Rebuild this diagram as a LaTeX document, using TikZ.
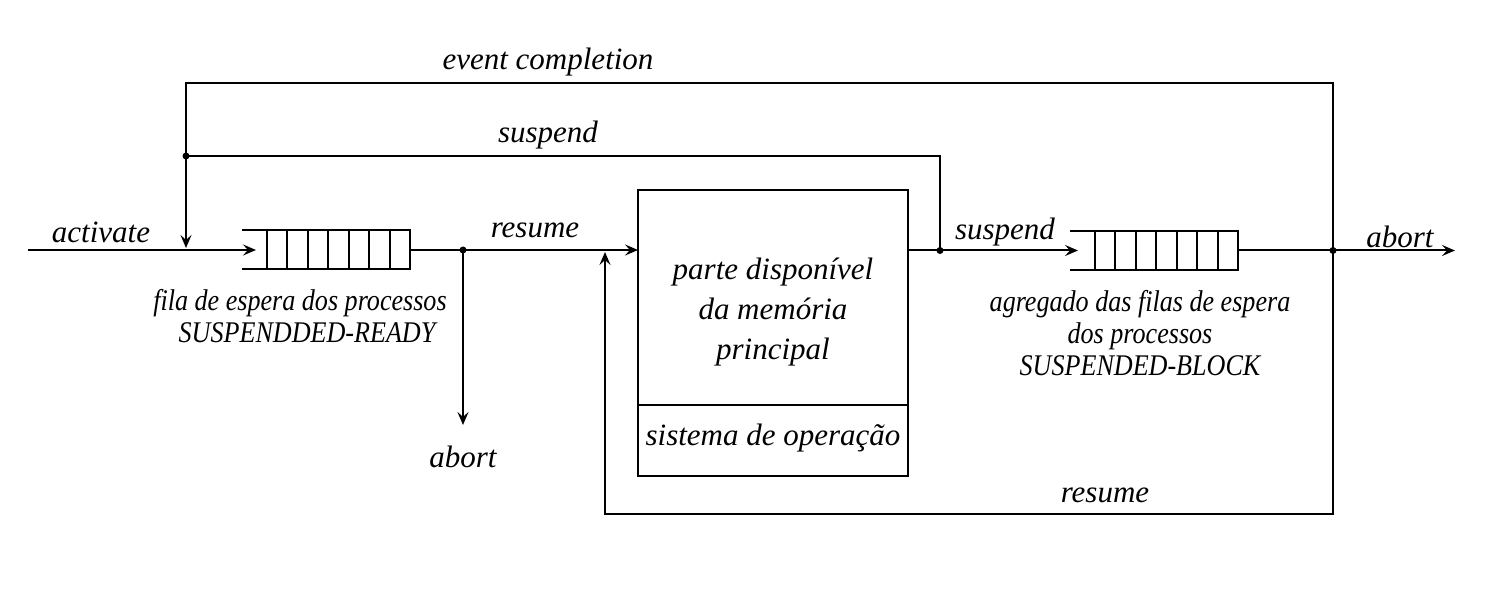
\documentclass[tikz,border=0pt]{standalone}
\usepackage{fontspec}
\setmainfont{Liberation Serif}
\newfontfamily\condfont[FakeStretch=0.87]{Liberation Serif}
\usetikzlibrary{arrows.meta,calc}
\begin{document}
\begin{tikzpicture}[x=1pt,y=-1pt,
  line width=2pt,
  arr/.style={-{Stealth[length=13pt,width=11pt,inset=5pt]}},
  lbl/.style={font=\fontsize{31}{32}\selectfont\itshape, inner sep=0pt},
  lblc/.style={lbl, align=center},
  small/.style={inner sep=0pt, align=center, font=\condfont\fontsize{30}{32}\selectfont\itshape},
  dotmark/.style={circle, fill=black, inner sep=0pt, minimum size=7pt},
  queuebox/.style={minimum width=166pt, minimum height=37pt, inner sep=0pt}]
\useasboundingbox (0,0) rectangle (1493,593);

% queues
\node[queuebox] (q1) at (326,250) {};
\node[queuebox] (q2) at (1154,250.5) {};
\foreach \q in {q1,q2}{
  \draw (\q.north west) -- (\q.north east) -- (\q.south east) -- (\q.south west);
  \foreach \i in {1,...,7}
    \draw ($(\q.north east)+(-\i*20.43,0)$) -- ($(\q.south east)+(-\i*20.43,0)$);
}

% memory box
\node[draw, minimum width=270pt, minimum height=286pt, inner sep=0pt] (mem) at (773,333) {};
\coordinate (divL) at (638,405);
\coordinate (divR) at (908,405);
\draw (divL) -- (divR);
\node[lblc, font=\fontsize{31}{40}\selectfont\itshape] (memtxt) at (773,312) {parte disponível\\da memória\\principal};
\node[lbl] (so) at (773,438) {sistema de operação};

% coordinates
\coordinate (start) at (28,250);
\coordinate (q1in) at (256,250);
\coordinate (j1) at (463,250);
\coordinate (abortL) at (463,425);
\coordinate (memin) at (638,250);
\coordinate (memout) at (908,250.5);
\coordinate (j4) at (940,250.5);
\coordinate (q2in) at (1078,250.5);
\coordinate (j3) at (1333,250.5);
\coordinate (abortR) at (1455,250.5);
\coordinate (topR) at (1333,83);
\coordinate (topL) at (186,83);
\coordinate (j2) at (186,156);
\coordinate (actin) at (186,248);
\coordinate (susR) at (940,156);
\coordinate (botR) at (1333,514);
\coordinate (botL) at (605,514);
\coordinate (resin) at (605,252);

% connectors
\draw[arr] (start) -- (q1in);
\draw[arr] (q1.east) -- (memin);
\draw[arr] (j1) -- (abortL);
\draw[arr] (memout) -- (q2in);
\draw[arr] (q2.east) -- (abortR);
\draw[arr] (j3) -- (topR) -- (topL) -- (actin);
\draw (j4) -- (susR) -- (j2);
\draw[arr] (j3) -- (botR) -- (botL) -- (resin);

\node[dotmark] at (j1) {};
\node[dotmark] at (j2) {};
\node[dotmark] at (j3) {};
\node[dotmark] at (j4) {};

% labels
\node[lbl] (tEvent) at (548,62) {event completion};
\node[lbl] (tSus1) at (548,135) {suspend};
\node[lbl] (tAct) at (101,232) {activate};
\node[lbl] (tRes1) at (535,230) {resume};
\node[lbl] (tSus2) at (1005,232) {suspend};
\node[lbl] (tAbortR) at (1400,237) {abort};
\node[lbl] (tAbortL) at (463,457) {abort};
\node[lbl] (tRes2) at (1105,495) {resume};
\node[small] (tFila) at (300,316) {fila de espera dos processos\\\hspace*{14pt}SUSPENDDED-READY};
\node[small] (tAgr) at (1140,333) {agregado das filas de espera\\dos processos\\SUSPENDED-BLOCK};
\end{tikzpicture}
\end{document}
